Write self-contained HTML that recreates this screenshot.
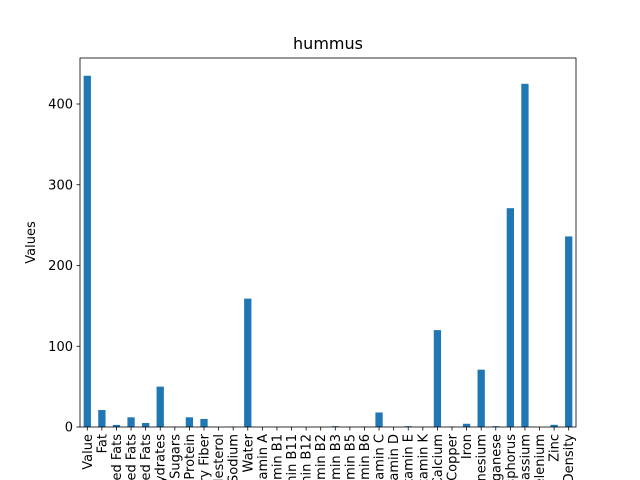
<!DOCTYPE html>
<html><head><meta charset="utf-8"><style>
html,body{margin:0;padding:0;background:#fff;width:640px;height:480px;overflow:hidden;}
svg{display:block;overflow:hidden;}
svg text{font-family:"DejaVu Sans","Liberation Sans",sans-serif;fill:#000;}
</style></head><body>
<svg id="chart" width="640" height="480" viewBox="0 0 640 480" xmlns="http://www.w3.org/2000/svg">
<defs><clipPath id="clipAll"><rect x="0" y="0" width="640" height="480"/></clipPath></defs>
<rect width="640" height="480" fill="#fff"/>
<g clip-path="url(#clipAll)">
<g id="bars"></g>
<g id="axes"></g>
</g>
</svg>
<script>
const categories=["Value","Fat","Saturated Fats","Monounsaturated Fats","Polyunsaturated Fats","Carbohydrates","Sugars","Protein","Dietary Fiber","Cholesterol","Sodium","Water","Vitamin A","Vitamin B1","Vitamin B11","Vitamin B12","Vitamin B2","Vitamin B3","Vitamin B5","Vitamin B6","Vitamin C","Vitamin D","Vitamin E","Vitamin K","Calcium","Copper","Iron","Magnesium","Manganese","Phosphorus","Potassium","Selenium","Zinc","Nutrition Density"];
const values=[435,21,2.6,12,5,50,0.3,12,10,0,0.4,159,0,0.1,0.1,0,0.1,1,0.2,0.4,18,0,1,0,120,0.5,4,71,1,271,425,0.01,2.7,236];
const yTicks=[0,100,200,300,400];
const L=80,R=576,T=58,B=427;
const yMax=(B-T)/0.8075;
const ns="http://www.w3.org/2000/svg";
function y(v){return B-(v/yMax)*(B-T);}
const step=(R-L)/categories.length;
function xc(i){return L+step*(i+0.5);}
const bars=document.getElementById('bars'),axes=document.getElementById('axes');
function mk(tag,attrs,parent){const e=document.createElementNS(ns,tag);for(const k in attrs)e.setAttribute(k,attrs[k]);parent.appendChild(e);return e;}
values.forEach((v,i)=>{
 const r=mk('rect',{x:xc(i)-step/4,y:y(v),width:step/2,height:B-y(v),fill:'#1f77b4'},bars);
 
 
});
const frame=mk('rect',{x:L,y:T,width:R-L,height:B-T,fill:'none',stroke:'#000','stroke-width':0.8},axes);


yTicks.forEach(t=>{
 mk('line',{x1:L-3.5,x2:L,y1:y(t),y2:y(t),stroke:'#000','stroke-width':0.8},axes);
 const tx=mk('text',{x:L-7,y:y(t)+4.5,'text-anchor':'end','font-size':13},axes);
 tx.textContent=t;
 
 
});
categories.forEach((c,i)=>{
 mk('line',{x1:xc(i),x2:xc(i),y1:B,y2:B+3.5,stroke:'#000','stroke-width':0.8},axes);
 const tx=mk('text',{x:0,y:0,'text-anchor':'end','font-size':13,transform:`translate(${xc(i)+4.5},${B+7}) rotate(-90)`},axes);
 tx.textContent=c;
 
 
});
const yt=mk('text',{x:0,y:0,'text-anchor':'middle','font-size':13,transform:`translate(35,${(T+B)/2}) rotate(-90)`},axes);
yt.textContent='Values';


const ti=mk('text',{x:(L+R)/2,y:49,'text-anchor':'middle','font-size':16},axes);
ti.textContent='hummus';


</script>
</body></html>
